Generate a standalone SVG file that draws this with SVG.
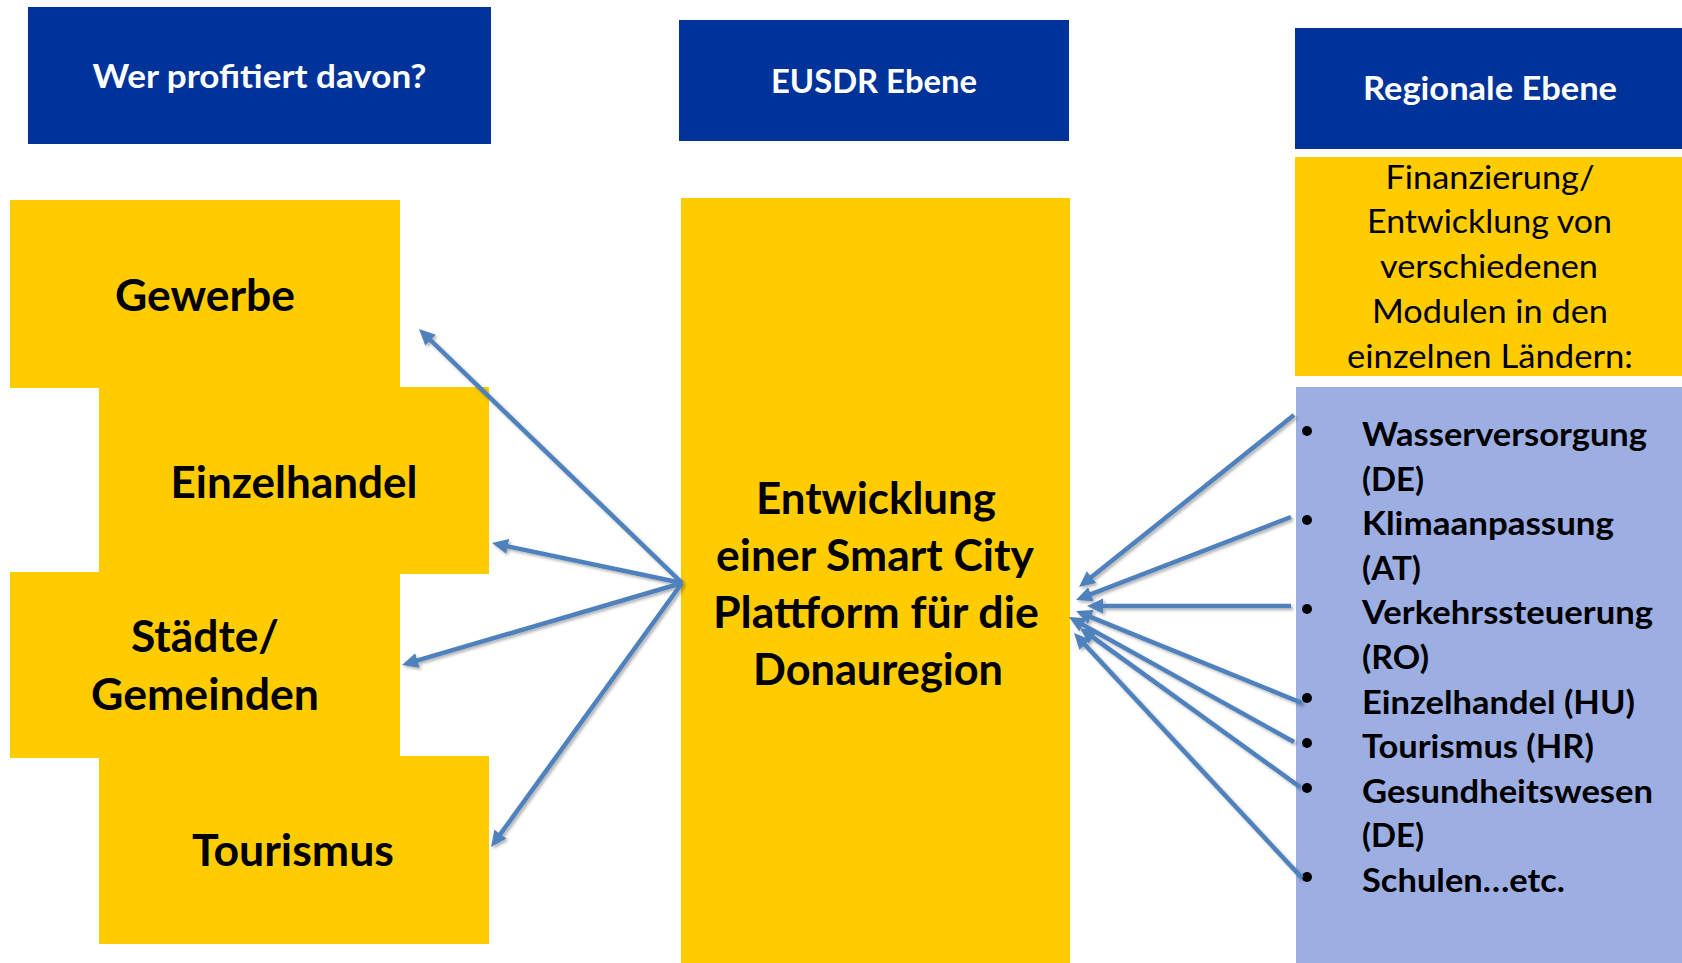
<svg xmlns="http://www.w3.org/2000/svg" width="1682" height="963" viewBox="0 0 1682 963">
<style>
.hdr{fill:#003399}
.yel{fill:#FFCC00}
.lst{fill:#9DAEE2}
.ht{font-family:Lato,"Open Sans","Liberation Sans",sans-serif;font-weight:bold;font-size:32px;fill:#fff;text-anchor:middle}
.bt{font-family:Lato,"Open Sans","Liberation Sans",sans-serif;font-weight:bold;font-size:43px;fill:#000;text-anchor:middle}
.rt{font-family:Lato,"Open Sans","Liberation Sans",sans-serif;font-weight:normal;font-size:32px;fill:#000;text-anchor:middle}
.li{font-family:Lato,"Open Sans","Liberation Sans",sans-serif;font-weight:bold;font-size:33px;fill:#000}
.arr{stroke:#4F81BD;stroke-width:4.5;fill:none;marker-end:url(#ah)}
</style>
<defs>
<marker id="ah" viewBox="0 0 16 16" refX="6" refY="8" markerWidth="16" markerHeight="16" markerUnits="userSpaceOnUse" orient="auto">
<path d="M0,0.5 L16,8 L0,15.5 z" fill="#4F81BD"/>
</marker>
<filter id="sh" filterUnits="userSpaceOnUse" x="0" y="0" width="1682" height="963">
<feDropShadow dx="2" dy="2" stdDeviation="1.5" flood-color="#000" flood-opacity="0.3"/>
</filter>
</defs>
<rect width="1682" height="963" fill="#fff"/>

<g id="hdr-wer">
<rect class="hdr" x="28" y="7" width="463" height="137"/>
<text class="ht" x="259.5" y="88" textLength="334" lengthAdjust="spacingAndGlyphs">Wer profitiert davon?</text>
</g>
<g id="hdr-eusdr">
<rect class="hdr" x="679" y="20" width="390" height="121"/>
<text class="ht" x="874" y="93" textLength="206" lengthAdjust="spacingAndGlyphs">EUSDR Ebene</text>
</g>
<g id="hdr-regional">
<rect class="hdr" x="1295" y="28" width="387" height="121"/>
<text class="ht" x="1490" y="100" textLength="254" lengthAdjust="spacingAndGlyphs">Regionale Ebene</text>
</g>

<g id="gewerbe">
<rect class="yel" x="10" y="200" width="390" height="188"/>
<text class="bt" x="205" y="311" textLength="180" lengthAdjust="spacingAndGlyphs">Gewerbe</text>
</g>
<g id="einzelhandel">
<rect class="yel" x="99" y="387" width="390" height="187"/>
<text class="bt" x="294" y="498" textLength="247" lengthAdjust="spacingAndGlyphs">Einzelhandel</text>
</g>
<g id="staedte">
<rect class="yel" x="10" y="572" width="390" height="186"/>
<text class="bt" x="205" y="652" textLength="148" lengthAdjust="spacingAndGlyphs">Städte/</text>
<text class="bt" x="205" y="710" textLength="228" lengthAdjust="spacingAndGlyphs">Gemeinden</text>
</g>
<g id="tourismus">
<rect class="yel" x="99" y="756" width="390" height="188"/>
<text class="bt" x="293" y="866" textLength="202" lengthAdjust="spacingAndGlyphs">Tourismus</text>
</g>

<g id="plattform">
<rect class="yel" x="681" y="198" width="389" height="765"/>
<text class="bt" x="876" y="514" textLength="240" lengthAdjust="spacingAndGlyphs">Entwicklung</text>
<text class="bt" x="875" y="571" textLength="318" lengthAdjust="spacingAndGlyphs">einer Smart City</text>
<text class="bt" x="876" y="628" textLength="326" lengthAdjust="spacingAndGlyphs">Plattform für die</text>
<text class="bt" x="878" y="685" textLength="250" lengthAdjust="spacingAndGlyphs">Donauregion</text>
</g>

<g id="finanzierung">
<rect class="yel" x="1295" y="157" width="387" height="219"/>
<text class="rt" x="1490" y="189" textLength="209" lengthAdjust="spacingAndGlyphs">Finanzierung/</text>
<text class="rt" x="1489.5" y="233" textLength="245" lengthAdjust="spacingAndGlyphs">Entwicklung von</text>
<text class="rt" x="1489" y="278" textLength="218" lengthAdjust="spacingAndGlyphs">verschiedenen</text>
<text class="rt" x="1490" y="323" textLength="236" lengthAdjust="spacingAndGlyphs">Modulen in den</text>
<text class="rt" x="1490" y="368" textLength="286" lengthAdjust="spacingAndGlyphs">einzelnen Ländern:</text>
</g>

<g id="module">
<rect class="lst" x="1296" y="387" width="386" height="576"/>
<g fill="#000">
<circle cx="1307" cy="431" r="5"/>
<circle cx="1307" cy="520" r="5"/>
<circle cx="1307" cy="609" r="5"/>
<circle cx="1307" cy="698" r="5"/>
<circle cx="1307" cy="743" r="5"/>
<circle cx="1307" cy="788" r="5"/>
<circle cx="1307" cy="877" r="5"/>
</g>
<text class="li" x="1362" y="446" textLength="285" lengthAdjust="spacingAndGlyphs">Wasserversorgung</text>
<text class="li" x="1362" y="490.6" textLength="62" lengthAdjust="spacingAndGlyphs">(DE)</text>
<text class="li" x="1362" y="535.2" textLength="252" lengthAdjust="spacingAndGlyphs">Klimaanpassung</text>
<text class="li" x="1362" y="579.8" textLength="59" lengthAdjust="spacingAndGlyphs">(AT)</text>
<text class="li" x="1362" y="624.4" textLength="291" lengthAdjust="spacingAndGlyphs">Verkehrssteuerung</text>
<text class="li" x="1362" y="669" textLength="67" lengthAdjust="spacingAndGlyphs">(RO)</text>
<text class="li" x="1362" y="713.6" textLength="273" lengthAdjust="spacingAndGlyphs">Einzelhandel (HU)</text>
<text class="li" x="1362" y="758.2" textLength="232" lengthAdjust="spacingAndGlyphs">Tourismus (HR)</text>
<text class="li" x="1362" y="802.8" textLength="291" lengthAdjust="spacingAndGlyphs">Gesundheitswesen</text>
<text class="li" x="1362" y="847.4" textLength="62" lengthAdjust="spacingAndGlyphs">(DE)</text>
<text class="li" x="1362" y="892" textLength="203" lengthAdjust="spacingAndGlyphs">Schulen…etc.</text>
</g>

<g id="connectors" filter="url(#sh)">
<line class="arr" x1="682" y1="583" x2="426.2" y2="336"/>
<line class="arr" x1="682" y1="583" x2="501.8" y2="545.1"/>
<line class="arr" x1="682" y1="583" x2="411.6" y2="662.2"/>
<line class="arr" x1="682" y1="583" x2="496.9" y2="838.9"/>
<line class="arr" x1="1294" y1="415" x2="1086.8" y2="580.8"/>
<line class="arr" x1="1291" y1="517" x2="1085.3" y2="596.4"/>
<line class="arr" x1="1291" y1="606" x2="1097" y2="606"/>
<line class="arr" x1="1302" y1="703" x2="1085.3" y2="614.8"/>
<line class="arr" x1="1294" y1="742" x2="1077.7" y2="621.9"/>
<line class="arr" x1="1300" y1="787" x2="1088.1" y2="633.9"/>
<line class="arr" x1="1302" y1="878" x2="1080.8" y2="640.3"/>
</g>
</svg>
